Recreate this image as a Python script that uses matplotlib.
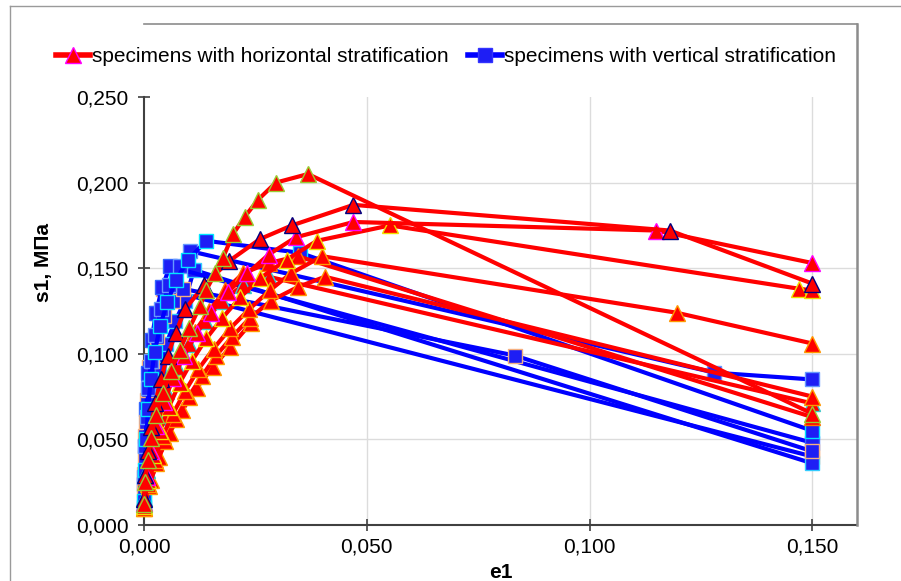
import matplotlib
matplotlib.use("Agg")
import matplotlib.pyplot as plt
from matplotlib.lines import Line2D
from matplotlib.ticker import FuncFormatter

plt.rcParams['font.family'] = ['Liberation Sans', 'DejaVu Sans']

# ---------------- data: specimens with horizontal stratification ----------------
hA_e1 = [0.0000, 0.0003, 0.0008, 0.0016, 0.0027, 0.0042, 0.0060, 0.0080, 0.0102, 0.0126, 0.0139, 0.0160, 0.0177, 0.0200, 0.0226, 0.0256, 0.0296, 0.0368, 0.1500]
hA_s1 = [0.012, 0.025, 0.038, 0.051, 0.064, 0.077, 0.090, 0.102, 0.115, 0.128, 0.137, 0.147, 0.156, 0.170, 0.180, 0.190, 0.200, 0.205, 0.065]

hB_e1 = [0.0000, 0.0003, 0.0008, 0.0015, 0.0025, 0.0038, 0.0053, 0.0071, 0.0092, 0.0135, 0.0190, 0.0260, 0.0332, 0.0470, 0.1180, 0.1500]
hB_s1 = [0.015, 0.029, 0.043, 0.057, 0.071, 0.085, 0.099, 0.112, 0.126, 0.140, 0.154, 0.167, 0.175, 0.187, 0.172, 0.141]

hC_e1 = [0.0000, 0.0006, 0.0015, 0.0028, 0.0045, 0.0066, 0.0090, 0.0118, 0.0150, 0.0188, 0.0232, 0.0280, 0.0340, 0.0470, 0.1150, 0.1500]
hC_s1 = [0.013, 0.028, 0.043, 0.058, 0.072, 0.086, 0.099, 0.112, 0.124, 0.136, 0.147, 0.158, 0.168, 0.177, 0.172, 0.153]

hD_e1 = [0.0000, 0.0008, 0.0020, 0.0036, 0.0056, 0.0080, 0.0108, 0.0140, 0.0176, 0.0216, 0.0260, 0.0320, 0.0388, 0.0552, 0.1470, 0.1500]
hD_s1 = [0.011, 0.026, 0.041, 0.055, 0.069, 0.083, 0.096, 0.109, 0.121, 0.133, 0.144, 0.155, 0.166, 0.175, 0.138, 0.137]

hE_e1 = [0.0000, 0.0010, 0.0024, 0.0042, 0.0065, 0.0092, 0.0122, 0.0156, 0.0194, 0.0236, 0.0282, 0.0330, 0.0400, 0.1195, 0.1500]
hE_s1 = [0.010, 0.024, 0.038, 0.052, 0.065, 0.078, 0.091, 0.103, 0.115, 0.126, 0.137, 0.147, 0.157, 0.124, 0.106]

hF_e1 = [0.0000, 0.0005, 0.0013, 0.0025, 0.0041, 0.0062, 0.0086, 0.0114, 0.0146, 0.0182, 0.0222, 0.0280, 0.0345, 0.1500]
hF_s1 = [0.013, 0.028, 0.044, 0.059, 0.073, 0.087, 0.100, 0.113, 0.125, 0.137, 0.147, 0.153, 0.157, 0.063]

hG_e1 = [0.0000, 0.0012, 0.0028, 0.0048, 0.0072, 0.0100, 0.0130, 0.0162, 0.0198, 0.0238, 0.0285, 0.0345, 0.0406, 0.1500]
hG_s1 = [0.010, 0.023, 0.036, 0.049, 0.062, 0.075, 0.087, 0.099, 0.110, 0.121, 0.131, 0.139, 0.145, 0.075]

hH_e1 = [0.0000, 0.0007, 0.0017, 0.0031, 0.0050, 0.0074, 0.0102, 0.0136, 0.0176, 0.0222, 0.0280, 0.1500]
hH_s1 = [0.016, 0.032, 0.048, 0.063, 0.078, 0.092, 0.106, 0.119, 0.131, 0.140, 0.145, 0.071]

hI_e1 = [0.0000, 0.0015, 0.0034, 0.0058, 0.0086, 0.0118, 0.0154, 0.0194, 0.0240]
hI_s1 = [0.012, 0.026, 0.040, 0.054, 0.067, 0.080, 0.092, 0.104, 0.118]

# ---------------- data: specimens with vertical stratification ----------------
v1_e1 = [0.0000, 0.0002, 0.0005, 0.0009, 0.0015, 0.0024, 0.0036, 0.0052, 0.0072, 0.0099, 0.0140, 0.0350, 0.1500]
v1_s1 = [0.014, 0.032, 0.050, 0.068, 0.085, 0.101, 0.116, 0.130, 0.143, 0.155, 0.166, 0.159, 0.055]

v2_e1 = [0.0000, 0.0001, 0.0003, 0.0006, 0.0010, 0.0016, 0.0025, 0.0038, 0.0056, 0.0080, 0.0103, 0.1280, 0.1500]
v2_s1 = [0.011, 0.028, 0.046, 0.063, 0.080, 0.096, 0.111, 0.126, 0.140, 0.151, 0.160, 0.089, 0.085]

v3_e1 = [0.0000, 0.0002, 0.0005, 0.0010, 0.0018, 0.0030, 0.0046, 0.0066, 0.0087, 0.0832, 0.1500]
v3_s1 = [0.020, 0.040, 0.060, 0.079, 0.096, 0.110, 0.122, 0.131, 0.138, 0.099, 0.043]

v4_e1 = [0.0000, 0.0002, 0.0005, 0.0010, 0.0017, 0.0027, 0.0041, 0.0058, 0.1500]
v4_s1 = [0.024, 0.046, 0.068, 0.089, 0.108, 0.124, 0.139, 0.151, 0.048]

v5_e1 = [0.0000, 0.0003, 0.0007, 0.0013, 0.0022, 0.0034, 0.0050, 0.0070, 0.0092, 0.0112, 0.1500]
v5_s1 = [0.010, 0.027, 0.044, 0.060, 0.076, 0.091, 0.106, 0.119, 0.131, 0.149, 0.036]

v6_e1 = [0.0000, 0.0002, 0.0006, 0.0012, 0.0020, 0.0030, 0.0043, 0.1500]
v6_s1 = [0.030, 0.052, 0.073, 0.092, 0.108, 0.124, 0.138, 0.040]

legend_labels = ["specimens with horizontal stratification", "specimens with vertical stratification"]
x_ticks = [0.0, 0.05, 0.10, 0.15]
y_ticks = [0.0, 0.05, 0.10, 0.15, 0.20, 0.25]

# ---------------- figure ----------------
W, H = 901, 581
fig = plt.figure(figsize=(W / 100, H / 100), dpi=100)
fig.patch.set_facecolor('white')

L, R, T, B = 144, 857, 97, 525
ax = fig.add_axes([L / W, (H - B) / H, (R - L) / W, (B - T) / H])
ax.set_xlim(0, 0.16)
ax.set_ylim(0, 0.25)

grid_c = '#DCDCDC'
for yv in y_ticks[1:-1]:
    ax.axhline(yv, color=grid_c, lw=1.0, zorder=0)
for xv in x_ticks[1:]:
    ax.axvline(xv, color=grid_c, lw=1.0, zorder=0)

ms_t = 11
ms_s = 10.5
lw = 3.0
blue_face = '#1E1EF5'
blue_series = [
    (v6_e1, v6_s1, '#F5B080'),
    (v5_e1, v5_s1, '#33CCFF'),
    (v4_e1, v4_s1, '#3366FF'),
    (v3_e1, v3_s1, '#F5B080'),
    (v2_e1, v2_s1, '#6699FF'),
    (v1_e1, v1_s1, '#00E5FF'),
]
for xs, ys, ec in blue_series:
    ax.plot(xs, ys, color='#0000FF', lw=lw, marker='s', ms=ms_s,
            mfc=blue_face, mec=ec, mew=1.0, zorder=3, clip_on=False)

red_series = [
    (hI_e1, hI_s1, '#FF9900'),
    (hH_e1, hH_s1, '#33CCCC'),
    (hG_e1, hG_s1, '#FF9900'),
    (hF_e1, hF_s1, '#FF7700'),
    (hE_e1, hE_s1, '#FF9900'),
    (hD_e1, hD_s1, '#F0E000'),
    (hC_e1, hC_s1, '#FF00FF'),
    (hB_e1, hB_s1, '#000080'),
    (hA_e1, hA_s1, '#9ACD32'),
]
for xs, ys, ec in red_series:
    ax.plot(xs, ys, color='#FF0000', lw=lw, marker='^', ms=ms_t,
            mfc='#FF0000', mec=ec, mew=1.0, zorder=4, clip_on=False)

# axes styling
for s in ['top', 'right']:
    ax.spines[s].set_visible(False)
for s in ['left', 'bottom']:
    ax.spines[s].set_color('#404040')
    ax.spines[s].set_linewidth(1.5)
ax.set_xticks(x_ticks)
ax.set_yticks(y_ticks)
fmt = FuncFormatter(lambda v, p: f"{v:.3f}".replace('.', ','))
ax.xaxis.set_major_formatter(fmt)
ax.yaxis.set_major_formatter(fmt)
ax.tick_params(axis='both', direction='inout', length=8, width=1.2, color='#404040',
               labelsize=15, labelcolor='black')
ax.tick_params(axis='x', pad=5)
ax.tick_params(axis='y', pad=7)

# plot-area box (right and top)
fig.add_artist(Line2D([R / W, R / W], [(H - 24) / H, (H - B) / H], color='#8C8C8C', lw=1.8))
fig.add_artist(Line2D([L / W, R / W], [(H - 24) / H, (H - 24) / H], color='#8C8C8C', lw=1.2))
# chart-area border
fig.add_artist(Line2D([10 / W, 10 / W], [(H - 6) / H, 0], color='#9A9A9A', lw=1.0))
fig.add_artist(Line2D([10 / W, 1], [(H - 6) / H, (H - 6) / H], color='#9A9A9A', lw=1.0))

# axis titles
fig.text(43 / W, 1 - 263 / H, 's1, МПа', rotation=90, fontsize=15, fontweight='bold',
         ha='center', va='center')
fig.text((L + R) / 2 / W, 1 - 572 / H, 'e1', fontsize=15, fontweight='bold',
         ha='center', va='center')

# legend
h_red = Line2D([], [], color='#FF0000', lw=4, marker='^', ms=ms_t, mfc='#FF0000', mec='#FF00FF', mew=1.0)
h_blue = Line2D([], [], color='#0000FF', lw=4, marker='s', ms=ms_s, mfc=blue_face, mec='#3333FF', mew=1.0)
leg = fig.legend([h_red, h_blue], legend_labels, loc='center left',
                 bbox_to_anchor=(56 / W, 1 - 57 / H), ncol=2, frameon=False,
                 fontsize=15, handlelength=1.65, handletextpad=0.1, columnspacing=0.9,
                 borderaxespad=0, borderpad=0)

fig.savefig('out.png', dpi=100, facecolor='white')
